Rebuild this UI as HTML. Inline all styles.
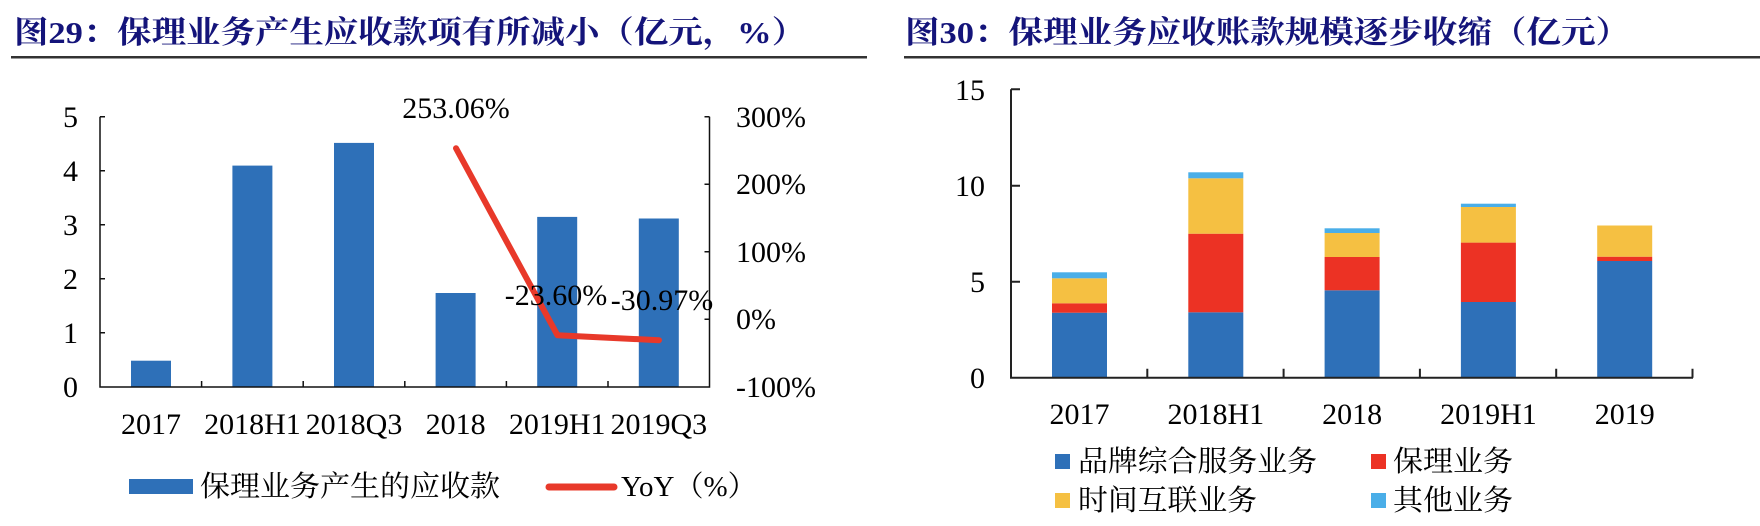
<!DOCTYPE html>
<html><head><meta charset="utf-8"><style>
html,body{margin:0;padding:0;background:#fff;}
svg{display:block;}
text{font-family:"Liberation Serif","Noto Serif CJK SC",serif;}
.cjk{font-family:"Liberation Serif","Noto Serif CJK SC",serif;}
.t{font-family:"Liberation Serif","Noto Serif CJK SC",serif;font-weight:bold;fill:#14147a;}
</style></head><body>
<svg width="1760" height="526" viewBox="0 0 1760 526" xmlns="http://www.w3.org/2000/svg">
<text class="t" x="14" y="43" font-size="31" textLength="792" lengthAdjust="spacingAndGlyphs">图29：保理业务产生应收款项有所减小（亿元，%）</text>
<rect x="11" y="56" width="856" height="2.5" fill="#333"/>
<text class="t" x="905" y="43" font-size="31" textLength="725" lengthAdjust="spacingAndGlyphs">图30：保理业务应收账款规模逐步收缩（亿元）</text>
<rect x="904" y="56" width="856" height="2.5" fill="#333"/>

<g fill="#2e70b8">
<rect x="131" y="360.7" width="40" height="26.3"/>
<rect x="232.4" y="165.6" width="40" height="221.4"/>
<rect x="334" y="142.9" width="40" height="244.1"/>
<rect x="435.6" y="293" width="40" height="94"/>
<rect x="537.2" y="216.9" width="40" height="170.1"/>
<rect x="638.8" y="218.5" width="40" height="168.5"/>
</g>
<g stroke="#111" stroke-width="1.5" fill="none">
<path d="M100 116.7V387H709.5V116.7"/>
<path d="M100 116.7h5M100 170.7h5M100 224.7h5M100 278.7h5M100 332.7h5"/>
<path d="M709.5 116.7h-5M709.5 184.3h-5M709.5 251.8h-5M709.5 319.3h-5"/>
<path d="M201.6 387v-6M303.2 387v-6M404.8 387v-6M506.4 387v-6M608 387v-6"/>
</g>
<polyline points="456,148.2 557.5,335.3 659,340.2" fill="none" stroke="#e8392a" stroke-width="6" stroke-linejoin="round" stroke-linecap="round"/>
<g font-size="30" text-anchor="end" fill="#000">
<text x="78" y="127">5</text><text x="78" y="181">4</text><text x="78" y="235">3</text>
<text x="78" y="289">2</text><text x="78" y="343">1</text><text x="78" y="397">0</text>
</g>
<g font-size="30" fill="#000">
<text x="736" y="127">300%</text><text x="736" y="194">200%</text><text x="736" y="262">100%</text>
<text x="736" y="329">0%</text><text x="736" y="397">-100%</text>
</g>
<g font-size="30" text-anchor="middle" fill="#000">
<text x="151" y="434">2017</text><text x="252.4" y="434">2018H1</text><text x="354" y="434">2018Q3</text>
<text x="455.6" y="434">2018</text><text x="557.2" y="434">2019H1</text><text x="658.8" y="434">2019Q3</text>
<text x="456" y="118">253.06%</text>
<text x="556" y="305">-23.60%</text>
<text x="662" y="310">-30.97%</text>
</g>
<rect x="129" y="479" width="64" height="15" fill="#2e70b8"/>
<text class="cjk" x="200" y="496" font-size="29" textLength="300" lengthAdjust="spacingAndGlyphs">保理业务产生的应收款</text>
<line x1="549" y1="487" x2="614" y2="487" stroke="#e8392a" stroke-width="7" stroke-linecap="round"/>
<text class="cjk" x="621" y="496" font-size="29">YoY（%）</text>

<g>
<rect x="1052" y="312.7" width="55" height="65" fill="#2e70b8"/>
<rect x="1052" y="303.3" width="55" height="9.4" fill="#ec3224"/>
<rect x="1052" y="278.3" width="55" height="25" fill="#f5c042"/>
<rect x="1052" y="272.3" width="55" height="6" fill="#4aaee8"/>
<rect x="1188.3" y="312.3" width="55" height="65.4" fill="#2e70b8"/>
<rect x="1188.3" y="233.7" width="55" height="78.6" fill="#ec3224"/>
<rect x="1188.3" y="178.3" width="55" height="55.4" fill="#f5c042"/>
<rect x="1188.3" y="172.3" width="55" height="6" fill="#4aaee8"/>
<rect x="1324.6" y="290.3" width="55" height="87.4" fill="#2e70b8"/>
<rect x="1324.6" y="257" width="55" height="33.3" fill="#ec3224"/>
<rect x="1324.6" y="233" width="55" height="24" fill="#f5c042"/>
<rect x="1324.6" y="228.3" width="55" height="4.7" fill="#4aaee8"/>
<rect x="1460.9" y="302" width="55" height="75.7" fill="#2e70b8"/>
<rect x="1460.9" y="242.6" width="55" height="59.4" fill="#ec3224"/>
<rect x="1460.9" y="207" width="55" height="35.6" fill="#f5c042"/>
<rect x="1460.9" y="203.7" width="55" height="3.3" fill="#4aaee8"/>
<rect x="1597.2" y="261" width="55" height="116.7" fill="#2e70b8"/>
<rect x="1597.2" y="256.7" width="55" height="4.3" fill="#ec3224"/>
<rect x="1597.2" y="225.5" width="55" height="31.2" fill="#f5c042"/>
</g>
<g stroke="#222" stroke-width="2" fill="none">
<path d="M1011 89.3V377.7H1693"/>
<path d="M1011 89.3h9M1011 185.7h9M1011 281.7h9"/>
<path d="M1147.3 377.7v-9M1283.6 377.7v-9M1419.9 377.7v-9M1556.2 377.7v-9M1692.5 377.7v-9"/>
</g>
<g font-size="30" text-anchor="end" fill="#000">
<text x="985" y="100">15</text><text x="985" y="196">10</text><text x="985" y="292">5</text><text x="985" y="388">0</text>
</g>
<g font-size="30" text-anchor="middle" fill="#000">
<text x="1079.5" y="424">2017</text><text x="1215.8" y="424">2018H1</text><text x="1352.1" y="424">2018</text>
<text x="1488.4" y="424">2019H1</text><text x="1624.7" y="424">2019</text>
</g>
<rect x="1055" y="454" width="15" height="15" fill="#2e70b8"/>
<text class="cjk" x="1078" y="471" font-size="29" textLength="239" lengthAdjust="spacingAndGlyphs">品牌综合服务业务</text>
<rect x="1371" y="454" width="15" height="15" fill="#ec3224"/>
<text class="cjk" x="1393" y="471" font-size="29" textLength="120" lengthAdjust="spacingAndGlyphs">保理业务</text>
<rect x="1055" y="493" width="15" height="15" fill="#f5c042"/>
<text class="cjk" x="1078" y="510" font-size="29" textLength="179" lengthAdjust="spacingAndGlyphs">时间互联业务</text>
<rect x="1371" y="493" width="15" height="15" fill="#4aaee8"/>
<text class="cjk" x="1393" y="510" font-size="29" textLength="120" lengthAdjust="spacingAndGlyphs">其他业务</text>
</svg>
</body></html>
